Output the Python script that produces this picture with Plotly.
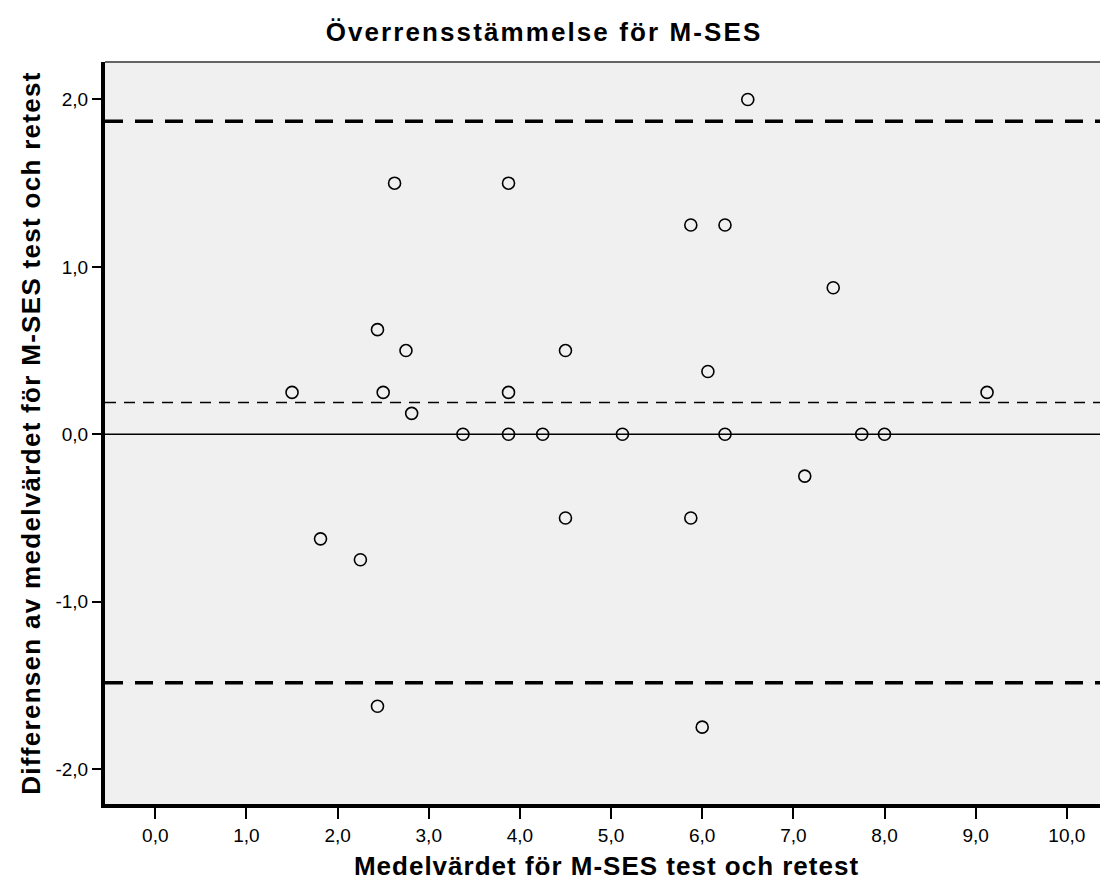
import plotly.graph_objects as go

# Data (mean of test & retest vs difference)
mean_values = [1.5, 2.5, 2.625, 2.4375, 2.75, 2.8125, 3.375, 3.875, 4.25, 5.125,
               6.25, 7.75, 8.0, 6.5, 3.875, 5.875, 6.25, 4.5, 6.0625, 3.875,
               7.4375, 9.125, 1.8125, 2.25, 2.4375, 4.5, 5.875, 6.0, 7.125]
diff_values = [0.25, 0.25, 1.5, 0.625, 0.5, 0.125, 0.0, 0.0, 0.0, 0.0,
               0.0, 0.0, 0.0, 2.0, 1.5, 1.25, 1.25, 0.5, 0.375, 0.25,
               0.875, 0.25, -0.625, -0.75, -1.625, -0.5, -0.5, -1.75, -0.25]

mean_diff = 0.19
upper_loa = 1.87
lower_loa = -1.485
zero_line = 0.0

x_tick_vals = [0, 1, 2, 3, 4, 5, 6, 7, 8, 9, 10]
x_tick_text = ["0,0", "1,0", "2,0", "3,0", "4,0", "5,0", "6,0", "7,0", "8,0", "9,0", "10,0"]
y_tick_vals = [-2, -1, 0, 1, 2]
y_tick_text = ["-2,0", "-1,0", "0,0", "1,0", "2,0"]

title_text = "Överrensstämmelse för M-SES"
x_title = "Medelvärdet för M-SES test och retest"
y_title = "Differensen av medelvärdet för M-SES test och retest"

FONT = "Arial, 'Liberation Sans', Helvetica, sans-serif"


def spaced(txt, px):
    return f'<span style="letter-spacing:{px}px">{txt}</span>'


fig = go.Figure()

shapes = []
for yv, w, dash in [(zero_line, 1.6, "solid"), (mean_diff, 1.4, "11px,8px"),
                    (upper_loa, 3.6, "18px,12px"), (lower_loa, 3.6, "18px,12px")]:
    shapes.append(dict(type="line", xref="paper", yref="y", x0=0, x1=1, y0=yv, y1=yv,
                       line=dict(color="black", width=w, dash=dash), layer="below"))
# thin top border
shapes.append(dict(type="line", xref="paper", yref="paper", x0=0, x1=1, y0=1, y1=1,
                   line=dict(color="#333333", width=1.6), layer="above"))

fig.add_trace(go.Scatter(
    x=mean_values, y=diff_values, mode="markers",
    marker=dict(symbol="circle", size=12, color="rgba(0,0,0,0)",
                line=dict(color="black", width=1.6)),
    showlegend=False, hoverinfo="x+y"))

W, H = 1100, 880
L, T, B = 97, 54, 84
plot_w = W - L

fig.update_layout(
    width=W, height=H,
    margin=dict(l=L, r=0, t=T, b=B, autoexpand=False),
    paper_bgcolor="white", plot_bgcolor="#F0F0F0",
    font=dict(family=FONT, color="black", size=19),
    shapes=shapes,
    title=dict(text=spaced(title_text, 2.1), x=(536 - L) / plot_w, xref="paper", xanchor="center",
               y=1 - 24 / H, yref="container", yanchor="middle",
               font=dict(family=FONT, size=26, weight="bold", color="black")),
    xaxis=dict(range=[-0.552, 10.452], tickvals=x_tick_vals, ticktext=x_tick_text,
               showgrid=False, zeroline=False, showline=True, linecolor="black", linewidth=3.5,
               ticks="outside", ticklen=11, tickwidth=2, tickcolor="black",
               tickfont=dict(family=FONT, size=19),
               title=dict(text=spaced(x_title, 1.0), standoff=13,
                          font=dict(family=FONT, size=26, weight="bold")),
               automargin=False, fixedrange=True),
    yaxis=dict(range=[-2.209, 2.224], tickvals=y_tick_vals, ticktext=y_tick_text,
               showgrid=False, zeroline=False, showline=True, linecolor="black", linewidth=4,
               ticks="outside", ticklen=9, tickwidth=2, tickcolor="black",
               tickfont=dict(family=FONT, size=19),
               title=dict(text=spaced(y_title, 1.3), standoff=8,
                          font=dict(family=FONT, size=26, weight="bold")),
               automargin=False, fixedrange=True),
)

fig.write_html("out.html")
